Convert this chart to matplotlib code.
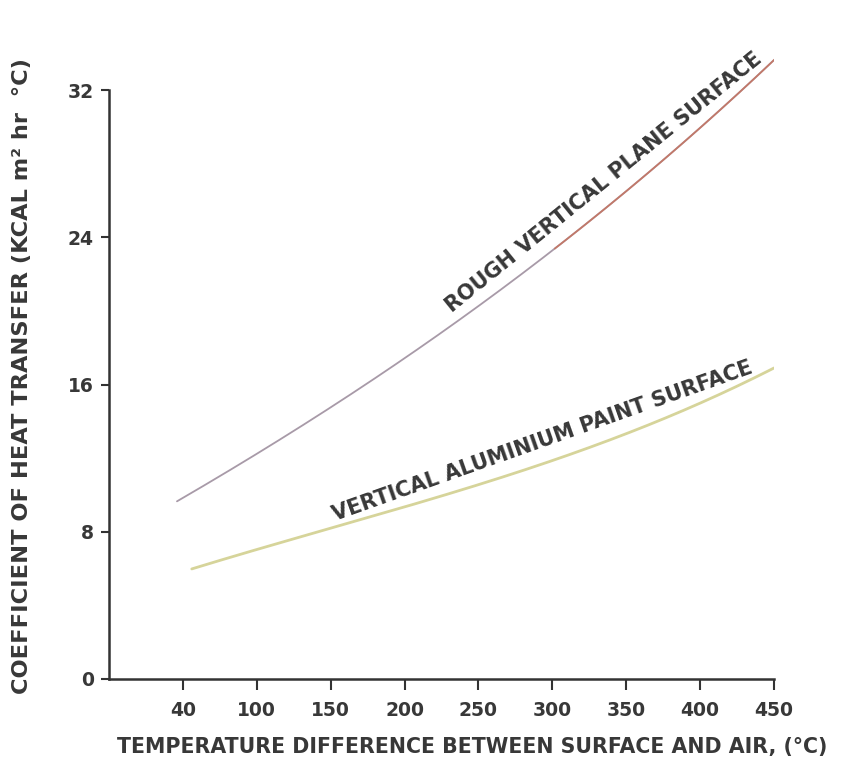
import numpy as np
import matplotlib.pyplot as plt

# x values are in axis units: the tick labelled "40" sits where 50 would be
rough_x = [46, 80, 125, 170, 215, 245, 298, 349, 400, 450]
rough_y = [9.7, 11.2, 13.4, 15.9, 18.4, 19.9, 23.0, 26.5, 30.0, 33.6]

alu_x = [56, 102, 147, 192, 249, 332, 393, 450]
alu_y = [6.0, 7.05, 8.1, 9.2, 10.55, 12.75, 14.75, 16.9]

x_ticks = [50, 100, 150, 200, 250, 300, 350, 400, 450]
x_labels = ['40', '100', '150', '200', '250', '300', '350', '400', '450']
y_ticks = [0, 8, 16, 24, 32]

txt = '#383838'
font = 'DejaVu Sans'

fig = plt.figure(figsize=(8.52, 7.79), dpi=100)
ax = fig.add_axes([109/852, 100/779, 665/852, 625.8/779])

# smooth the read-off points a little for drawing
def smooth(xs, ys):
    xx = np.linspace(xs[0], xs[-1], 200)
    c = np.polyfit(xs, ys, 3)
    return xx, np.polyval(c, xx)

rx, ry = smooth(rough_x, rough_y)
ax.plot(rx, ry, color='#a89aa8', lw=1.3, solid_capstyle='round')
m = rx >= 300
ax.plot(rx[m], ry[m], color='#c8705a', lw=1.3, alpha=0.8)

lx, ly = smooth(alu_x, alu_y)
ax.plot(lx, ly, color='#d6d49a', lw=2.0, solid_capstyle='round')

ax.set_xlim(0, 450)
ax.set_ylim(0, 34)
ax.spines['top'].set_visible(False)
ax.spines['right'].set_visible(False)
ax.spines['left'].set_bounds(0, 32)
ax.spines['bottom'].set_bounds(0, 450)
for s in ['left', 'bottom']:
    ax.spines[s].set_linewidth(1.8)
    ax.spines[s].set_color('#333333')

ax.set_xticks(x_ticks)
ax.set_xticklabels(x_labels)
ax.set_yticks(y_ticks)
ax.tick_params(axis='x', direction='out', length=8, width=1.5, pad=8,
               colors='#333333', labelsize=13.5)
ax.tick_params(axis='y', direction='out', length=6, width=1.5, pad=5,
               colors='#333333', labelsize=13.5)
for lab in ax.get_xticklabels() + ax.get_yticklabels():
    lab.set_family(font)
    lab.set_weight('bold')
    lab.set_color(txt)

fig.text(472/852, 1 - 747/779, 'TEMPERATURE DIFFERENCE BETWEEN SURFACE AND AIR, (\u00b0C)',
         ha='center', va='center', fontsize=14.8, color=txt, family=font, weight='bold')
fig.text(22/852, 1 - 376/779, 'COEFFICIENT OF HEAT TRANSFER (KCAL m\u00b2 hr  \u00b0C)',
         ha='center', va='center', rotation=90, fontsize=16.2, color=txt,
         family=font, weight='bold')

ax.text(232, 19.9, 'ROUGH VERTICAL PLANE SURFACE', rotation=39,
        rotation_mode='anchor', ha='left', va='baseline', fontsize=15,
        color=txt, family=font, weight='bold')
ax.text(153, 8.6, 'VERTICAL ALUMINIUM PAINT SURFACE', rotation=19.5,
        rotation_mode='anchor', ha='left', va='baseline', fontsize=15,
        color=txt, family=font, weight='bold')

fig.savefig('out.png', dpi=100)
